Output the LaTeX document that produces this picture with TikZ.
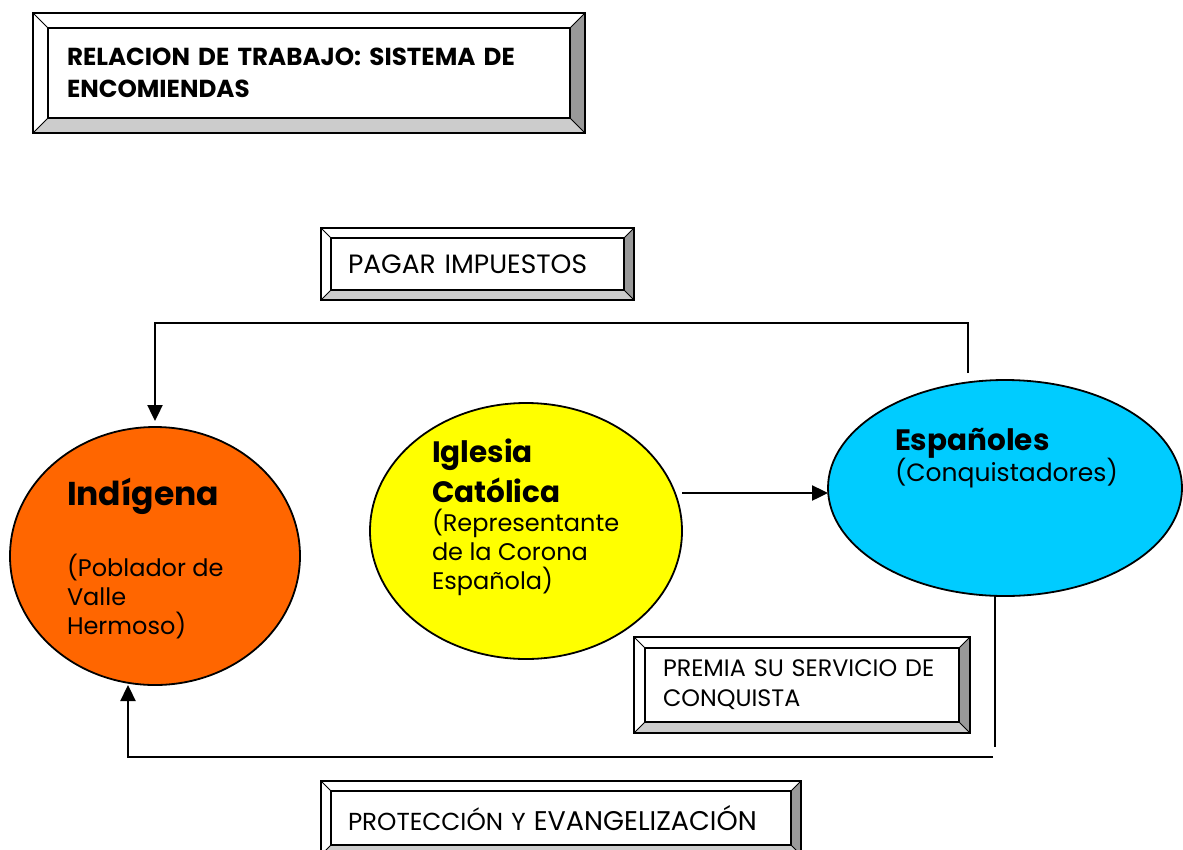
\documentclass[tikz,border=0pt]{standalone}
\usepackage{fontspec}
\setmainfont{Poppins}
\usepackage{tikz}
\usetikzlibrary{arrows.meta,shapes.geometric,positioning}
\definecolor{indorange}{HTML}{FF6600}
\definecolor{iglyellow}{HTML}{FFFF00}
\definecolor{espcyan}{HTML}{00CCFF}
\definecolor{bevdark}{HTML}{999999}
\definecolor{bevlight}{HTML}{CCCCCC}
\tikzset{
  basic/.style   = {inner sep=0pt, outer sep=0pt, align=left,
                    font=\fontsize{24}{29}\selectfont},
  box/.style     = {basic, rectangle},
  actor/.style   = {ellipse, draw, line width=1.8pt, inner sep=0pt, outer sep=0pt},
  actorname/.style = {basic, anchor=base west,
                    font=\bfseries\fontsize{29.5}{40}\selectfont},
  actornote/.style = {basic, anchor=base west},
  bevline/.style = {line width=2.2pt, line join=miter},
  line/.style    = {draw, line width=2.4pt},
  link/.style    = {line, -{Triangle[length=16pt,width=15pt]}}
}

\begin{document}
\begin{tikzpicture}[x=1pt,y=-1pt]
\useasboundingbox (0,0) rectangle (1183,849);

% the bevelled label boxes
\node[box, minimum width=552pt, minimum height=120pt, text width=484pt,
      font=\bfseries\fontsize{24.6}{32}\selectfont] (title) at (309,73)
      {RELACION DE TRABAJO: SISTEMA DE\\ENCOMIENDAS};
\node[box, minimum width=313pt, minimum height=72pt, text width=259pt,
      font=\fontsize{26.5}{30}\selectfont] (pagar) at (477.5,264)
      {PAGAR IMPUESTOS};
\node[box, minimum width=336pt, minimum height=96pt, text width=278pt,
      font=\fontsize{23.8}{30}\selectfont] (premia) at (802,685)
      {PREMIA SU SERVICIO DE\\CONQUISTA};
\node[box, minimum width=480pt, minimum height=74pt, text width=426pt,
      font=\fontsize{24.6}{30}\selectfont] (prot) at (561,818)
      {PROTECCIÓN Y {\fontsize{27}{30}\selectfont EVANGELIZACIÓN}};

% bevel frame round every box
\foreach \b/\i in {title/15,pagar/10,premia/11,prot/10} {
  \fill[bevdark] (\b.north east) -- ++(-\i,\i) -- ([shift={(-\i,-\i)}]\b.south east)
    -- (\b.south east) -- cycle;
  \fill[bevlight] (\b.south west) -- ++(\i,-\i) -- ([shift={(-\i,-\i)}]\b.south east)
    -- (\b.south east) -- cycle;
  \draw[bevline] (\b.north west) rectangle (\b.south east);
  \draw[bevline] ([shift={(\i,\i)}]\b.north west) rectangle ([shift={(-\i,-\i)}]\b.south east);
  \draw[line width=1pt] (\b.north west) -- ++(\i,\i) (\b.north east) -- ++(-\i,\i)
    (\b.south west) -- ++(\i,-\i) (\b.south east) -- ++(-\i,-\i);
}

% the three actors
\node[actor, fill=indorange, minimum width=290pt, minimum height=258pt] (ind) at (155,556) {};
\node[actor, fill=iglyellow, minimum width=312pt, minimum height=256pt] (igl) at (526,531) {};
\node[actor, fill=espcyan, minimum width=354pt, minimum height=216pt] (esp) at (1005,488) {};

% names and notes, anchored on the baseline of their last line
\node[actorname, font=\bfseries\fontsize{33}{40}\selectfont] (indname) at (67,505) {Indígena};
\node[actornote] (indnote) at (67,634) {(Poblador de\\Valle\\Hermoso)};
\node[actorname] (iglname) at (432,502) {Iglesia\\Católica};
\node[actornote] (iglnote) at (432,589) {(Representante\\de la Corona\\Española)};
\node[actorname] (espname) at (895,450) {Españoles};
\node[actornote, font=\fontsize{25}{29}\selectfont] (espnote) at (895,481) {(Conquistadores)};

% connectors
\coordinate (topstart) at ([shift={(-37,-7)}]esp.north);
\coordinate (indtop) at ([yshift=6pt]ind.north);
\draw[link] (topstart) -- ++(0,-50) -| (indtop);

\coordinate (espin) at ([yshift=-5pt]esp.west);
\draw[link] (igl.east |- espin) -- (espin);

\coordinate (espdrop) at ([shift={(-10,151)}]esp.south);
\draw[line] (esp.south -| espdrop) -- (espdrop);
\coordinate (backstart) at ([shift={(-2,10)}]espdrop);
\coordinate (indbot) at ([xshift=-27pt]ind.south);
\draw[link] (backstart) -- (backstart -| indbot) -- (indbot);
\end{tikzpicture}
\end{document}
